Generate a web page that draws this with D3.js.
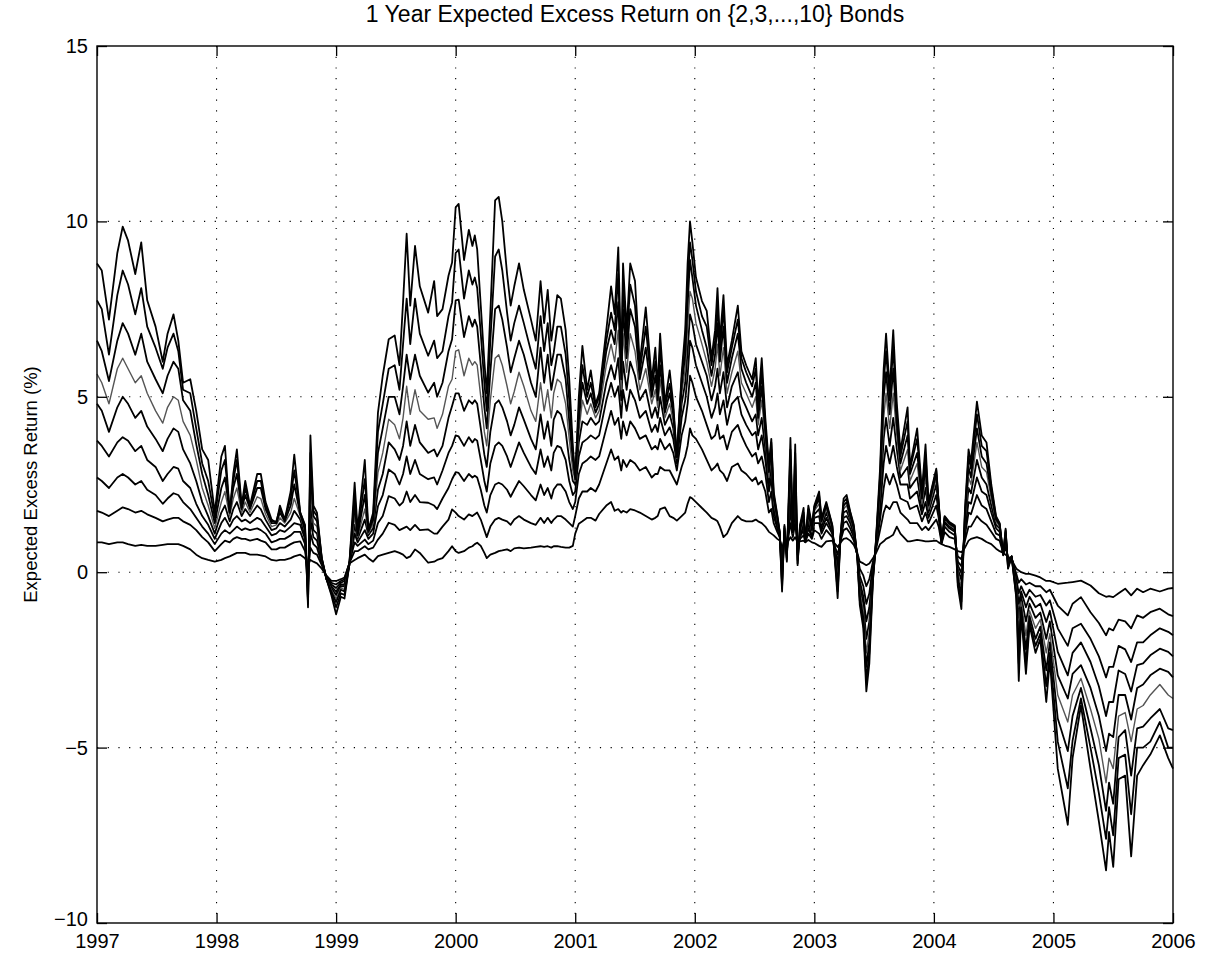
<!DOCTYPE html>
<html>
<head>
<meta charset="utf-8">
<script src="https://cdn.jsdelivr.net/npm/d3@7"></script>
<style>
  body { margin: 0; background: #fff; }
  svg text { font-family: "Liberation Sans", Arial, Helvetica, sans-serif; fill: #000; }
</style>
</head>
<body>
<div id="chart"></div>
<script>
// observation dates (decimal years) shared by all maturities
const dates = [
  1997.00,1997.04,1997.10,1997.17,1997.215,1997.26,1997.32,1997.37,1997.42,1997.49,
  1997.55,1997.59,1997.64,1997.68,1997.72,1997.78,1997.83,1997.88,1997.93,1997.985,
  1998.04,1998.07,1998.11,1998.14,1998.17,1998.21,1998.24,1998.28,1998.34,1998.37,
  1998.41,1998.46,1998.50,1998.53,1998.57,1998.62,1998.65,1998.70,1998.74,1998.765,
  1998.785,1998.81,1998.84,1998.88,1998.92,1998.96,1999.00,1999.04,1999.07,1999.11,
  1999.155,1999.18,1999.24,1999.27,1999.31,1999.35,1999.39,1999.44,1999.49,1999.53,
  1999.56,1999.59,1999.62,1999.66,1999.70,1999.77,1999.82,1999.845,1999.89,1999.94,
  1999.97,2000.00,2000.025,2000.07,2000.11,2000.14,2000.16,2000.18,2000.21,2000.24,
  2000.26,2000.29,2000.33,2000.36,2000.39,2000.43,2000.46,2000.49,2000.53,2000.57,
  2000.63,2000.67,2000.71,2000.74,2000.77,2000.80,2000.82,2000.85,2000.88,2000.92,
  2000.95,2000.98,2001.00,2001.03,2001.06,2001.10,2001.13,2001.17,2001.20,2001.26,
  2001.30,2001.33,2001.36,2001.385,2001.40,2001.43,2001.46,2001.50,2001.54,2001.59,
  2001.64,2001.67,2001.69,2001.71,2001.75,2001.79,2001.82,2001.85,2001.89,2001.92,
  2001.94,2001.96,2001.98,2002.01,2002.06,2002.10,2002.14,2002.17,2002.19,2002.21,
  2002.24,2002.27,2002.31,2002.36,2002.39,2002.43,2002.48,2002.51,2002.53,2002.56,
  2002.59,2002.62,2002.64,2002.66,2002.69,2002.71,2002.73,2002.75,2002.77,2002.80,
  2002.82,2002.84,2002.86,2002.88,2002.91,2002.925,2002.95,2002.98,2003.00,2003.04,
  2003.06,2003.10,2003.15,2003.175,2003.195,2003.22,2003.245,2003.27,2003.30,2003.33,
  2003.36,2003.38,2003.41,2003.435,2003.46,2003.49,2003.51,2003.55,2003.58,2003.60,
  2003.63,2003.66,2003.69,2003.72,2003.78,2003.80,2003.86,2003.90,2003.93,2003.955,
  2004.02,2004.04,2004.065,2004.09,2004.13,2004.175,2004.20,2004.23,2004.26,2004.29,
  2004.31,2004.36,2004.40,2004.44,2004.48,2004.52,2004.55,2004.58,2004.60,2004.62,
  2004.65,2004.69,2004.71,2004.73,2004.77,2004.80,2004.85,2004.89,2004.94,2004.97,
  2005.036,2005.12,2005.16,2005.23,2005.31,2005.38,2005.44,2005.465,2005.50,2005.545,
  2005.60,2005.65,2005.70,2005.75,2005.81,2005.89,2005.96,2006.00
];

// expected excess return (%) of the n-year bond
const bond2 = [
  0.85,0.85,0.8,0.85,0.85,0.8,0.75,0.78,0.75,0.75,
  0.78,0.8,0.8,0.8,0.75,0.65,0.5,0.4,0.35,0.3,
  0.35,0.4,0.45,0.5,0.55,0.55,0.55,0.5,0.5,0.48,
  0.45,0.35,0.33,0.35,0.35,0.4,0.45,0.5,0.4,0.2,
  0.35,0.3,0.25,0.1,-0.1,-0.25,-0.25,-0.2,-0.15,0.25,
  0.35,0.4,0.5,0.4,0.3,0.46,0.5,0.55,0.6,0.55,
  0.5,0.4,0.45,0.65,0.55,0.27,0.3,0.35,0.4,0.6,
  0.74,0.6,0.55,0.6,0.7,0.74,0.8,0.84,0.75,0.55,
  0.4,0.5,0.55,0.6,0.62,0.65,0.6,0.68,0.7,0.68,
  0.7,0.72,0.74,0.72,0.74,0.7,0.74,0.74,0.72,0.7,
  0.7,0.75,1.1,1.38,1.45,1.55,1.55,1.47,1.66,1.9,
  2.0,1.75,1.8,1.7,1.75,1.7,1.8,1.76,1.7,1.6,
  1.5,1.55,1.6,1.8,1.85,1.6,1.55,1.47,1.6,1.7,
  1.95,2.14,2.1,2.0,1.83,1.7,1.55,1.5,1.45,1.3,
  1.0,1.1,1.4,1.6,1.5,1.45,1.45,1.5,1.45,1.4,
  1.3,1.15,1.1,1.05,0.95,0.9,0.7,0.85,0.8,1.0,
  0.9,1.0,0.85,0.88,0.9,0.85,0.92,0.85,0.83,0.75,
  0.72,0.88,0.9,0.8,0.72,0.85,0.95,0.97,0.9,0.78,
  0.55,0.3,0.25,0.2,0.25,0.4,0.5,0.8,0.88,0.95,
  1.0,1.07,1.3,1.1,0.88,0.88,0.92,0.9,0.88,0.88,
  0.9,0.85,0.8,0.76,0.72,0.65,0.6,0.57,0.7,0.9,
  0.95,1.0,0.95,0.86,0.8,0.67,0.6,0.55,0.5,0.45,
  0.35,0.1,0.05,0.0,-0.05,-0.05,-0.1,-0.15,-0.25,-0.25,
  -0.33,-0.3,-0.28,-0.24,-0.38,-0.6,-0.7,-0.68,-0.71,-0.6,
  -0.47,-0.66,-0.47,-0.57,-0.47,-0.55,-0.47,-0.45
];
const bond3 = [
  1.75,1.7,1.6,1.75,1.85,1.8,1.7,1.75,1.65,1.55,
  1.45,1.5,1.55,1.55,1.45,1.35,1.2,1.0,0.85,0.6,
  0.8,0.9,0.85,0.95,1.0,0.95,0.95,0.9,0.95,0.9,
  0.85,0.65,0.65,0.7,0.7,0.8,0.85,0.88,0.6,0.0,
  0.7,0.55,0.5,0.2,-0.15,-0.3,-0.35,-0.25,-0.2,0.25,
  0.6,0.6,0.74,0.65,0.7,0.93,1.1,1.41,1.35,1.2,
  1.25,1.3,1.2,1.35,1.2,1.22,1.1,1.1,1.3,1.5,
  1.79,1.7,1.6,1.5,1.65,1.6,1.65,1.7,1.5,1.2,
  1.0,1.3,1.5,1.55,1.5,1.45,1.35,1.5,1.6,1.5,
  1.4,1.35,1.55,1.4,1.55,1.4,1.5,1.6,1.6,1.5,
  1.4,1.3,1.6,2.1,2.3,2.3,2.4,2.3,2.5,3.1,
  3.5,3.2,3.3,2.9,3.2,3.0,3.2,3.1,2.9,3.0,
  2.7,2.8,2.8,3.0,2.9,2.9,2.7,2.5,3.0,3.3,
  3.6,4.1,3.9,3.8,3.5,3.2,2.9,3.0,3.1,2.9,
  2.8,2.6,3.0,3.1,2.9,2.8,2.6,2.7,2.5,2.6,
  2.3,1.7,1.8,1.4,1.15,1.0,0.5,0.95,0.7,1.4,
  1.0,1.4,0.75,0.95,1.05,0.86,1.1,0.95,1.2,1.1,
  0.95,1.2,1.0,0.7,0.5,0.9,1.2,1.25,1.1,0.9,
  0.5,0.1,-0.1,-0.4,-0.2,0.3,0.55,1.2,1.7,1.9,
  1.8,2.0,2.0,1.7,1.5,1.4,1.4,1.2,1.3,1.2,
  1.5,1.3,0.82,1.14,1.0,0.95,0.45,0.37,0.9,1.3,
  1.3,1.6,1.45,1.35,1.15,0.95,0.9,0.55,0.7,0.4,
  0.4,-0.05,-0.3,-0.2,-0.35,-0.3,-0.4,-0.4,-0.57,-0.5,
  -0.95,-1.23,-0.9,-0.71,-1.14,-1.45,-1.8,-1.6,-1.66,-1.35,
  -1.4,-1.6,-1.23,-1.3,-1.14,-1.04,-1.2,-1.25
];
const bond4 = [
  2.7,2.6,2.4,2.7,2.8,2.7,2.5,2.6,2.35,2.2,
  1.95,2.1,2.25,2.2,2.0,1.8,1.55,1.3,1.1,0.8,
  1.1,1.2,1.1,1.2,1.3,1.2,1.25,1.2,1.25,1.2,
  1.1,0.85,0.9,0.95,0.95,1.05,1.15,1.15,0.8,-0.2,
  1.1,0.8,0.7,0.25,-0.15,-0.35,-0.45,-0.3,-0.25,0.25,
  0.85,0.75,0.93,0.8,0.9,1.4,1.6,2.17,2.1,1.9,
  2.0,2.3,2.0,2.2,2.0,1.98,1.9,1.8,2.1,2.4,
  2.65,2.85,2.83,2.6,2.8,2.7,2.75,2.7,2.35,1.9,
  1.7,2.2,2.5,2.55,2.5,2.35,2.15,2.35,2.6,2.45,
  2.2,2.05,2.5,2.2,2.4,2.1,2.36,2.5,2.5,2.3,
  2.0,1.8,2.0,2.8,3.1,3.2,3.3,3.2,3.3,4.1,
  4.6,4.2,4.4,3.8,4.3,3.9,4.3,4.1,3.8,3.9,
  3.5,3.6,3.5,3.8,3.5,3.66,3.4,2.9,3.9,4.3,
  4.8,5.6,5.4,5.0,4.6,4.2,3.8,3.9,4.2,3.8,
  3.9,3.5,4.0,4.2,3.9,3.6,3.3,3.4,3.1,3.3,
  2.8,2.0,2.3,1.6,1.25,1.05,0.3,1.05,0.6,1.8,
  1.05,1.8,0.65,1.0,1.2,0.87,1.25,1.0,1.4,1.4,
  1.1,1.4,1.1,0.6,0.3,0.95,1.4,1.45,1.25,1.0,
  0.48,-0.1,-0.4,-0.9,-0.6,0.2,0.58,1.5,2.4,2.8,
  2.5,2.8,2.5,2.1,2.0,1.8,1.9,1.45,1.7,1.4,
  1.9,1.55,0.84,1.3,1.15,1.05,0.3,0.17,1.05,1.7,
  1.65,2.2,1.9,1.8,1.45,1.1,1.05,0.54,0.85,0.35,
  0.42,-0.2,-0.6,-0.4,-0.7,-0.5,-0.7,-0.65,-0.95,-0.8,
  -1.6,-2.1,-1.6,-1.47,-1.9,-2.4,-3.0,-2.7,-2.7,-2.1,
  -2.2,-2.56,-2.0,-2.0,-1.8,-1.6,-1.7,-1.8
];
const bond5 = [
  3.75,3.6,3.3,3.7,3.85,3.75,3.45,3.6,3.2,3.0,
  2.6,2.8,3.0,2.95,2.6,2.4,1.95,1.6,1.35,0.95,
  1.4,1.55,1.3,1.5,1.6,1.45,1.5,1.4,1.55,1.5,
  1.3,1.05,1.1,1.2,1.15,1.3,1.4,1.35,0.95,-0.35,
  1.5,1.0,0.9,0.3,-0.2,-0.4,-0.55,-0.35,-0.35,0.2,
  1.1,0.85,1.2,0.95,1.1,1.88,2.2,2.93,2.8,2.5,
  2.8,3.3,2.8,3.2,2.8,2.65,2.7,2.5,2.9,3.4,
  3.6,3.9,3.87,3.6,3.85,3.7,3.8,3.75,3.2,2.6,
  2.3,3.1,3.6,3.7,3.6,3.3,3.0,3.3,3.7,3.4,
  3.0,2.8,3.5,3.0,3.3,2.9,3.4,3.6,3.55,3.2,
  2.6,2.2,2.3,3.3,3.7,3.8,3.9,3.8,3.9,4.9,
  5.4,5.0,5.3,4.4,5.2,4.6,5.2,4.9,4.4,4.6,
  4.0,4.2,4.0,4.4,3.9,4.13,3.8,3.1,4.4,4.9,
  5.6,6.6,6.4,5.9,5.4,5.0,4.4,4.7,5.1,4.5,
  4.9,4.2,4.8,5.0,4.5,4.2,3.9,4.0,3.5,3.9,
  3.2,2.3,2.7,1.75,1.35,1.1,0.15,1.1,0.55,2.1,
  1.1,2.1,0.55,1.05,1.3,0.88,1.4,1.05,1.55,1.6,
  1.2,1.55,1.15,0.5,0.1,1.0,1.55,1.6,1.4,1.1,
  0.46,-0.25,-0.7,-1.4,-1.0,0.1,0.6,1.8,3.1,3.6,
  3.1,3.6,3.0,2.5,2.5,2.1,2.3,1.65,2.0,1.55,
  2.2,1.7,0.85,1.4,1.25,1.15,0.2,-0.03,1.2,2.0,
  1.95,2.7,2.3,2.2,1.7,1.25,1.15,0.53,0.95,0.3,
  0.44,-0.3,-0.9,-0.55,-1.0,-0.7,-1.0,-0.9,-1.42,-1.1,
  -2.27,-2.94,-2.3,-2.0,-2.56,-3.25,-4.1,-3.7,-3.7,-2.8,
  -2.9,-3.4,-2.65,-2.6,-2.37,-2.18,-2.27,-2.4
];
const bond6 = [
  4.8,4.6,4.0,4.7,5.0,4.8,4.4,4.6,4.15,3.8,
  3.45,3.8,4.1,4.0,3.5,3.1,2.6,2.0,1.6,1.1,
  1.7,1.9,1.45,1.8,2.0,1.6,1.8,1.6,1.9,1.8,
  1.5,1.2,1.25,1.4,1.3,1.5,1.75,1.5,1.05,-0.5,
  1.9,1.2,1.1,0.33,-0.2,-0.45,-0.65,-0.4,-0.4,0.2,
  1.35,0.95,1.5,1.05,1.25,2.36,2.8,3.7,3.5,3.2,
  3.6,4.3,3.6,4.2,3.7,3.4,3.5,3.3,3.6,4.4,
  4.74,5.1,5.1,4.6,4.9,4.8,4.9,4.8,4.1,3.35,
  3.0,4.0,4.8,4.9,4.7,4.3,3.9,4.2,4.7,4.35,
  3.8,3.5,4.5,3.8,4.3,3.6,4.35,4.6,4.5,4.0,
  3.2,2.6,2.5,3.7,4.3,4.2,4.4,4.2,4.3,5.4,
  5.9,5.5,6.1,4.9,6.0,5.2,6.0,5.6,4.9,5.2,
  4.4,4.7,4.4,5.0,4.2,4.5,4.1,3.2,4.8,5.4,
  6.3,7.35,7.1,6.5,6.0,5.6,4.9,5.3,5.8,5.1,
  5.7,4.7,5.3,5.7,5.0,4.7,4.3,4.5,3.9,4.4,
  3.5,2.5,3.0,1.9,1.42,1.1,0.0,1.15,0.5,2.5,
  1.1,2.4,0.5,1.1,1.4,0.88,1.5,1.1,1.65,1.8,
  1.3,1.7,1.2,0.45,-0.05,1.0,1.7,1.75,1.5,1.15,
  0.45,-0.4,-0.9,-1.9,-1.4,0.0,0.6,2.0,3.8,4.4,
  3.6,4.4,3.5,2.7,3.0,2.4,2.7,1.8,2.4,1.7,
  2.5,1.8,0.86,1.45,1.3,1.2,0.1,-0.23,1.35,2.4,
  2.25,3.2,2.7,2.5,1.9,1.35,1.25,0.52,1.05,0.25,
  0.45,-0.4,-1.3,-0.7,-1.4,-0.9,-1.3,-1.15,-1.9,-1.4,
  -2.94,-3.6,-2.9,-2.65,-3.3,-4.1,-5.1,-4.6,-4.7,-3.5,
  -3.5,-4.2,-3.3,-3.2,-2.94,-2.75,-2.84,-3.0
];
const bond7 = [
  5.65,5.4,4.8,5.8,6.1,5.8,5.4,5.6,5.1,4.6,
  4.25,4.7,5.0,4.9,4.3,3.9,3.2,2.4,1.9,1.25,
  2.0,2.3,1.6,2.1,2.4,1.7,2.0,1.7,2.15,2.1,
  1.65,1.3,1.35,1.55,1.4,1.7,2.1,1.6,1.15,-0.65,
  2.4,1.4,1.3,0.36,-0.2,-0.5,-0.75,-0.45,-0.5,0.2,
  1.6,1.0,1.8,1.1,1.4,2.84,3.4,4.36,4.2,3.8,
  4.4,5.3,4.5,5.2,4.6,4.36,4.4,4.1,4.5,5.3,
  5.5,6.3,6.34,5.6,6.1,5.9,6.0,5.9,5.0,4.0,
  3.6,4.9,6.1,6.2,5.9,5.3,4.8,5.15,5.7,5.3,
  4.6,4.3,5.4,4.6,5.2,4.4,5.1,5.5,5.4,4.8,
  3.8,2.9,2.6,4.0,4.9,4.5,4.8,4.4,4.6,5.9,
  6.5,6.0,6.9,5.2,6.8,5.7,6.8,6.3,5.2,5.8,
  4.8,5.2,4.7,5.5,4.4,4.8,4.3,3.25,5.1,5.8,
  7.0,8.0,7.8,7.1,6.5,6.0,5.3,5.8,6.5,5.6,
  6.4,5.1,5.7,6.3,5.4,5.1,4.7,5.0,4.2,4.9,
  3.8,2.7,3.3,2.0,1.5,1.12,-0.15,1.2,0.45,2.8,
  1.12,2.8,0.4,1.15,1.5,0.88,1.6,1.15,1.75,1.95,
  1.4,1.8,1.25,0.4,-0.2,1.03,1.8,1.9,1.55,1.2,
  0.44,-0.55,-1.1,-2.3,-1.7,-0.1,0.6,2.3,4.4,5.1,
  4.1,5.1,3.9,2.9,3.5,2.6,3.1,1.95,2.7,1.8,
  2.67,1.88,0.86,1.5,1.35,1.25,0.0,-0.43,1.45,2.7,
  2.5,3.7,3.0,2.85,2.1,1.45,1.3,0.51,1.1,0.2,
  0.45,-0.5,-1.7,-0.85,-1.8,-1.1,-1.6,-1.35,-2.3,-1.75,
  -3.5,-4.27,-3.5,-3.03,-3.9,-4.75,-6.0,-5.3,-5.6,-4.1,
  -4.0,-4.83,-3.9,-3.8,-3.5,-3.2,-3.5,-3.6
];
const bond8 = [
  6.6,6.3,5.45,6.6,7.1,6.8,6.2,6.8,6.0,5.5,
  5.1,5.6,6.0,5.8,4.9,4.6,3.65,2.8,2.2,1.4,
  2.4,2.7,1.7,2.4,2.8,1.8,2.2,1.8,2.4,2.4,
  1.8,1.4,1.4,1.7,1.45,1.9,2.5,1.65,1.2,-0.8,
  2.9,1.6,1.45,0.38,-0.2,-0.55,-0.85,-0.5,-0.55,0.2,
  1.9,1.05,2.2,1.15,1.5,3.4,4.1,5.0,5.0,4.5,
  5.3,6.2,5.5,6.2,5.6,5.12,5.4,5.0,5.4,6.3,
  6.64,7.75,7.77,6.7,7.3,7.0,7.2,7.0,5.9,4.7,
  4.1,5.7,7.5,7.6,7.2,6.4,5.7,6.1,6.6,6.2,
  5.4,5.0,6.4,5.4,6.2,5.2,5.6,6.2,6.2,5.5,
  4.3,3.2,2.7,4.3,5.4,4.8,5.1,4.55,4.8,6.3,
  6.9,6.5,7.7,5.5,7.5,6.1,7.5,7.0,5.5,6.4,
  5.0,5.6,4.9,5.9,4.55,5.1,4.5,3.28,5.3,6.2,
  7.6,8.9,8.4,7.6,6.9,6.4,5.6,6.2,7.1,6.0,
  7.0,5.4,6.1,6.8,5.8,5.4,5.0,5.4,4.4,5.3,
  4.0,2.85,3.5,2.1,1.55,1.14,-0.3,1.25,0.4,3.2,
  1.14,3.1,0.35,1.2,1.6,0.88,1.7,1.2,1.8,2.1,
  1.45,1.9,1.3,0.3,-0.35,1.05,1.9,2.0,1.6,1.25,
  0.43,-0.7,-1.3,-2.7,-2.0,-0.15,0.6,2.5,5.0,5.7,
  4.5,5.8,4.2,3.1,3.9,2.8,3.4,2.1,3.0,1.9,
  2.8,1.93,0.86,1.55,1.38,1.28,-0.15,-0.63,1.6,3.0,
  2.7,4.1,3.3,3.1,2.25,1.5,1.35,0.5,1.15,0.16,
  0.45,-0.6,-2.1,-1.0,-2.2,-1.25,-1.9,-1.55,-2.8,-2.0,
  -4.17,-5.1,-4.1,-3.3,-4.45,-5.5,-6.8,-6.0,-6.6,-4.7,
  -4.5,-5.8,-4.45,-4.4,-4.17,-3.9,-4.45,-4.5
];
const bond9 = [
  7.75,7.5,6.2,7.9,8.6,8.2,7.35,8.1,7.0,6.4,
  5.8,6.4,6.8,6.3,5.2,5.1,4.1,3.1,2.6,1.55,
  2.9,3.2,1.75,2.6,3.2,1.85,2.4,1.85,2.6,2.6,
  1.9,1.45,1.45,1.8,1.5,2.1,2.9,1.7,1.3,-0.9,
  3.4,1.75,1.6,0.4,-0.2,-0.6,-1.0,-0.6,-0.65,0.2,
  2.2,1.1,2.65,1.2,1.6,4.0,4.8,5.8,5.9,5.2,
  6.5,7.8,6.5,7.8,6.8,6.17,6.6,6.1,6.3,7.3,
  7.69,9.1,9.2,7.8,8.6,8.2,8.4,8.1,6.8,5.4,
  4.6,6.6,9.0,9.2,8.6,7.4,6.6,7.1,7.6,7.1,
  6.3,5.8,7.3,6.3,7.1,5.9,6.25,7.0,7.0,6.2,
  4.9,3.4,2.8,4.6,5.9,5.0,5.4,4.7,5.0,6.6,
  7.4,6.9,8.5,5.7,8.2,6.5,8.2,7.6,5.7,7.0,
  5.2,6.0,5.1,6.4,4.7,5.37,4.65,3.3,5.5,6.6,
  8.2,9.4,8.9,8.0,7.3,7.0,5.9,6.6,7.6,6.3,
  7.5,5.7,6.4,7.2,6.1,5.7,5.3,5.8,4.6,5.7,
  4.2,2.95,3.7,2.2,1.6,1.15,-0.45,1.3,0.35,3.5,
  1.15,3.4,0.25,1.3,1.7,0.88,1.8,1.3,1.85,2.2,
  1.5,1.95,1.33,0.25,-0.55,1.06,2.0,2.1,1.7,1.3,
  0.42,-0.8,-1.45,-3.1,-2.3,-0.2,0.6,2.75,5.4,6.3,
  4.9,6.4,4.5,3.3,4.3,2.95,3.8,2.2,3.35,1.95,
  2.9,1.97,0.86,1.58,1.4,1.3,-0.3,-0.84,1.7,3.3,
  2.95,4.5,3.6,3.45,2.4,1.55,1.38,0.49,1.2,0.13,
  0.45,-0.7,-2.6,-1.1,-2.6,-1.4,-2.1,-1.75,-3.25,-2.3,
  -4.83,-6.16,-4.8,-3.6,-5.0,-6.3,-7.6,-6.7,-7.5,-5.3,
  -5.2,-6.9,-5.0,-5.0,-4.83,-4.27,-5.0,-5.0
];
const bond10 = [
  8.8,8.6,7.2,9.1,9.85,9.45,8.5,9.4,7.75,7.0,
  6.0,6.8,7.35,6.6,5.4,5.5,4.6,3.5,3.2,1.7,
  3.3,3.6,1.7,2.8,3.5,1.9,2.6,1.9,2.8,2.8,
  2.0,1.5,1.4,1.9,1.5,2.3,3.35,1.7,1.35,-1.0,
  3.9,1.9,1.7,0.4,-0.2,-0.65,-1.2,-0.7,-0.75,0.2,
  2.55,1.2,3.2,1.2,1.7,4.55,5.6,6.64,6.75,5.9,
  7.7,9.65,7.6,9.3,8.15,7.4,8.3,7.3,7.5,8.45,
  8.83,10.4,10.5,8.9,9.76,9.3,9.6,9.2,7.6,6.0,
  5.1,7.4,10.6,10.7,10.0,8.5,7.6,8.15,8.8,8.05,
  7.2,6.6,8.3,7.1,8.05,6.6,7.1,7.9,7.8,6.9,
  5.5,3.6,2.65,5.0,6.45,5.2,5.75,4.8,5.1,6.9,
  8.15,7.36,9.26,5.9,8.8,6.9,8.8,8.3,5.94,7.55,
  5.46,6.4,5.27,6.8,4.8,5.75,4.8,3.28,5.65,6.9,
  8.8,10.0,9.4,8.4,7.73,7.45,6.1,6.9,8.1,6.6,
  7.9,5.9,6.6,7.6,6.3,5.9,5.5,6.1,4.8,6.1,
  4.4,3.07,3.8,2.3,1.64,1.16,-0.55,1.35,0.3,3.83,
  1.16,3.64,0.2,1.35,1.83,0.88,1.9,1.35,1.9,2.3,
  1.54,2.0,1.35,0.2,-0.74,1.07,2.1,2.2,1.73,1.35,
  0.4,-0.93,-1.6,-3.4,-2.6,-0.25,0.6,2.97,5.8,6.8,
  5.2,6.9,4.8,3.45,4.7,3.0,4.1,2.3,3.64,2.0,
  2.95,2.0,0.86,1.6,1.43,1.33,-0.4,-1.05,1.8,3.5,
  3.14,4.86,3.9,3.7,2.5,1.6,1.4,0.48,1.24,0.1,
  0.45,-0.76,-3.1,-1.2,-2.9,-1.5,-2.3,-1.9,-3.7,-2.5,
  -5.6,-7.2,-5.3,-3.8,-5.6,-7.1,-8.5,-7.4,-8.4,-5.9,
  -5.8,-8.1,-5.8,-5.5,-5.2,-4.65,-5.3,-5.6
];

const seriesList = [bond2, bond3, bond4, bond5, bond6, bond7, bond8, bond9, bond10];
const xTicks = [1997, 1998, 1999, 2000, 2001, 2002, 2003, 2004, 2005, 2006];
const yTicks = [-10, -5, 0, 5, 10, 15];

const W = 1210, H = 960;
const plotLeft = 97, plotRight = 1173, plotTop = 46, plotBottom = 923;

seriesList.forEach((s, k) => {
  if (s.length !== dates.length) console.error('series ' + (k + 2) + ' has ' + s.length + ' values, dates ' + dates.length);
});

const svg = d3.select('#chart')
  .append('svg')
  .attr('width', W)
  .attr('height', H);

const x = d3.scaleLinear().domain([1997, 2006]).range([plotLeft, plotRight]);
const y = d3.scaleLinear().domain([-10, 15]).range([plotBottom, plotTop]);

// dotted grid
const grid = svg.append('g')
  .attr('stroke', '#000')
  .attr('stroke-width', 1.1)
  .attr('stroke-dasharray', '1.2,9.5');

grid.selectAll('.gx')
  .data(xTicks.slice(1, -1))
  .join('line')
  .attr('x1', d => x(d)).attr('x2', d => x(d))
  .attr('y1', plotTop).attr('y2', plotBottom);

grid.selectAll('.gy')
  .data(yTicks.slice(1, -1))
  .join('line')
  .attr('x1', plotLeft).attr('x2', plotRight)
  .attr('y1', d => y(d)).attr('y2', d => y(d));

// the nine maturities
const line = d3.line()
  .defined(d => d != null && !isNaN(d))
  .x((d, i) => x(dates[i]))
  .y(d => y(d));

svg.append('g')
  .selectAll('path')
  .data(seriesList)
  .join('path')
  .attr('fill', 'none')
  .attr('stroke', (d, i) => i === 5 ? '#555' : '#000')
  .attr('stroke-width', (d, i) => i === 5 ? 1.4 : 1.8)
  .attr('stroke-linejoin', 'round')
  .attr('d', line);

// axes, matlab style: ticks inside on all four sides
const tickLen = 10;

const xAxis = svg.append('g')
  .attr('transform', `translate(0,${plotBottom})`)
  .call(d3.axisBottom(x).tickValues(xTicks).tickFormat(d3.format('d'))
    .tickSizeInner(-tickLen).tickSizeOuter(0).tickPadding(10.5));

const yAxis = svg.append('g')
  .attr('transform', `translate(${plotLeft},0)`)
  .call(d3.axisLeft(y).tickValues(yTicks).tickFormat(d3.format('d'))
    .tickSizeInner(-tickLen).tickSizeOuter(0).tickPadding(9));

svg.append('g')
  .attr('transform', `translate(0,${plotTop})`)
  .call(d3.axisTop(x).tickValues(xTicks).tickFormat('')
    .tickSizeInner(-tickLen).tickSizeOuter(0));

svg.append('g')
  .attr('transform', `translate(${plotRight},0)`)
  .call(d3.axisRight(y).tickValues(yTicks).tickFormat('')
    .tickSizeInner(-tickLen).tickSizeOuter(0));

svg.selectAll('.domain').remove();
svg.selectAll('.tick line').attr('stroke', '#000').attr('stroke-width', 1.3);
svg.selectAll('.tick text')
  .attr('fill', '#000')
  .style('font-size', '20px')
  .style('font-family', '"Liberation Sans", Arial, sans-serif');

// lift the bottom y label a little so it clears the first year label
yAxis.selectAll('.tick')
  .filter(d => d === -10)
  .select('text')
  .attr('dy', '0.1em');

svg.append('rect')
  .attr('x', plotLeft).attr('y', plotTop)
  .attr('width', plotRight - plotLeft).attr('height', plotBottom - plotTop)
  .attr('fill', 'none')
  .attr('stroke', '#000')
  .attr('stroke-width', 1.4);

// title and y label
svg.append('text')
  .attr('x', (plotLeft + plotRight) / 2)
  .attr('y', 22)
  .attr('text-anchor', 'middle')
  .style('font-size', '23px')
  .text('1 Year Expected Excess Return on {2,3,...,10} Bonds');

svg.append('text')
  .attr('transform', `translate(37,${(plotTop + plotBottom) / 2}) rotate(-90)`)
  .attr('text-anchor', 'middle')
  .style('font-size', '18.5px')
  .text('Expected Excess Return (%)');
</script>
</body>
</html>
